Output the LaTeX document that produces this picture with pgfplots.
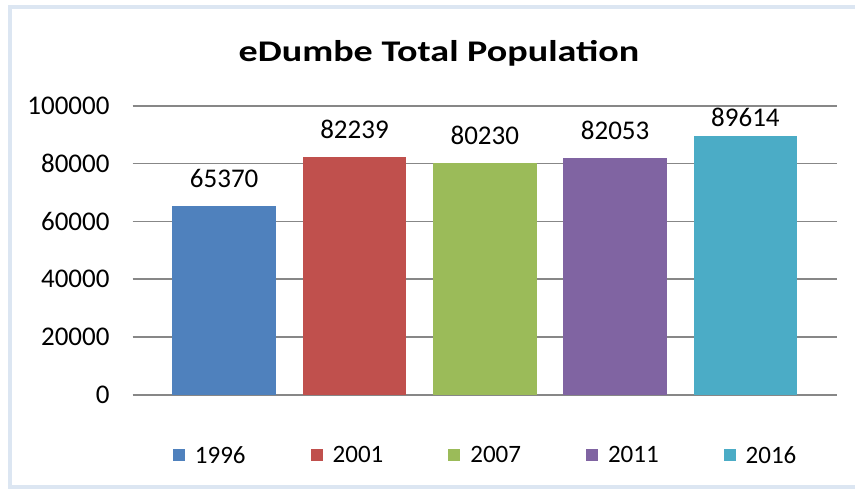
\documentclass[border=0pt]{standalone}
\usepackage{pgfplots}
\pgfplotsset{compat=1.18}
\usepackage{fontspec}
\setmainfont{Carlito}
\definecolor{cA}{HTML}{4F81BD}
\definecolor{cB}{HTML}{C0504D}
\definecolor{cC}{HTML}{9BBB59}
\definecolor{cD}{HTML}{8064A2}
\definecolor{cE}{HTML}{4BACC6}
\definecolor{gridc}{HTML}{878787}
\definecolor{framec}{HTML}{DCE6F2}
\begin{document}
\begin{tikzpicture}
\useasboundingbox (0,0) rectangle (855pt,488pt);
\fill[white] (0,0) rectangle (855pt,488pt);
\draw[framec, line width=4pt] (9.5pt,1.5pt) rectangle (880pt,481pt);
\node[anchor=base, inner sep=0pt, font=\fontsize{30}{36}\selectfont\bfseries] at (439pt,426.3pt) {\scalebox{1.27}[1]{eDumbe Total Population}};
\begin{axis}[
  at={(132.7pt,93pt)}, anchor=south west,
  scale only axis, width=704pt, height=289.3pt,
  xmin=0, xmax=704, ymin=0, ymax=100000,
  enlargelimits=false,
  axis line style={draw=none},
  major tick length=0pt,
  xtick=\empty,
  ytick={0,20000,40000,60000,80000,100000},
  scaled y ticks=false,
  /pgf/number format/.cd, fixed, precision=0, 1000 sep={}, assume math mode=true, /pgfplots/.cd,
  yticklabel style={font=\fontsize{27}{32}\selectfont, inner sep=0pt, xshift=-23pt},
  ymajorgrids,
  grid style={draw=gridc, line width=1.8pt},
  ybar, bar width=103.7,
  nodes near coords,
  every node near coord/.append style={font=\fontsize{27}{32}\selectfont, anchor=south, inner sep=0pt, yshift=18pt, text=black},
  legend columns=5,
  legend image code/.code={\fill[#1] (0pt,-6pt) rectangle (12pt,6pt);},
  legend style={at={(0.0572,-0.209)}, anchor=west, draw=none, fill=none, inner sep=0pt, outer sep=0pt,
    font=\fontsize{25}{30}\selectfont,
    nodes={inner sep=0pt},
    /tikz/every odd column/.append style={column sep=10pt},
    /tikz/every even column/.append style={column sep=65pt}},
]
\addplot[fill=cA, draw=none, bar shift=0pt] coordinates {(91.5,65370)};
\addlegendentry{1996}
\addplot[fill=cB, draw=none, bar shift=0pt] coordinates {(221.8,82239)};
\addlegendentry{2001}
\addplot[fill=cC, draw=none, bar shift=0pt] coordinates {(352.1,80230)};
\addlegendentry{2007}
\addplot[fill=cD, draw=none, bar shift=0pt] coordinates {(482.4,82053)};
\addlegendentry{2011}
\addplot[fill=cE, draw=none, bar shift=0pt, every node near coord/.append style={yshift=-9.5pt}] coordinates {(612.7,89614)};
\addlegendentry{2016}
\end{axis}
\end{tikzpicture}
\end{document}
